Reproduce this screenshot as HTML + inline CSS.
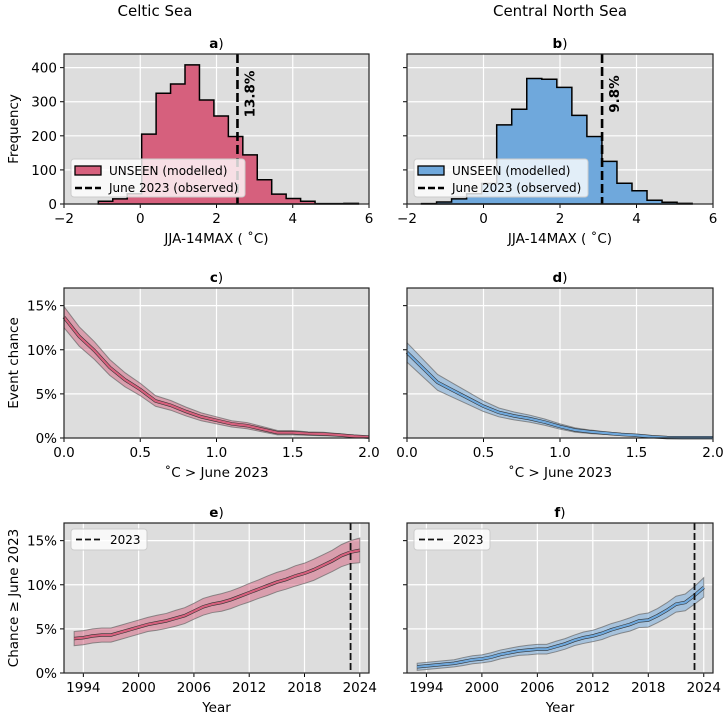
<!DOCTYPE html>
<html><head><meta charset="utf-8"><style>
body{margin:0;background:#fff;}
svg{font-family:"DejaVu Sans","Liberation Sans",sans-serif;}
</style></head><body>
<svg id="fig" width="725" height="717" viewBox="0 0 725 717" xmlns="http://www.w3.org/2000/svg">
<text x="155" y="16" font-size="15" text-anchor="middle">Celtic Sea</text>
<text x="560" y="16" font-size="15" text-anchor="middle">Central North Sea</text>
</svg>
<script>
const histAStart = -1.1, histAWidth = 0.379;
const histACounts = [8,15,30,205,325,352,408,305,258,198,144,71,29,16,8,1,1,2];
const histBStart = -1.62, histBWidth = 0.393;
const histBCounts = [1,6,15,30,60,232,278,368,366,342,260,198,125,61,39,11,5,2];
const obsA = 2.55, obsB = 3.1;
const pctA = "13.8%", pctB = "9.8%";
const histYTicks = [0,100,200,300,400];
const histXTicks = [-2,0,2,4,6];
const exceedX = [0,0.1,0.2,0.3,0.4,0.5,0.6,0.7,0.8,0.9,1.0,1.1,1.2,1.3,1.4,1.5,1.6,1.7,1.8,1.9,2.0];
const exceedC = [13.7,11.5,9.9,8.0,6.6,5.5,4.2,3.7,3.0,2.4,2.0,1.6,1.4,1.0,0.6,0.6,0.5,0.45,0.35,0.2,0.1];
const exceedCErr = [1.2,1.1,1.0,0.9,0.8,0.7,0.6,0.55,0.5,0.45,0.4,0.35,0.35,0.3,0.25,0.25,0.2,0.2,0.15,0.1,0.1];
const exceedD = [9.7,8.0,6.3,5.4,4.5,3.6,2.9,2.5,2.2,1.8,1.3,0.9,0.7,0.55,0.4,0.3,0.15,0.05,0.03,0.03,0.03];
const exceedDErr = [1.1,1.0,0.9,0.8,0.7,0.6,0.5,0.45,0.4,0.35,0.3,0.25,0.2,0.15,0.12,0.1,0.08,0.05,0.03,0.03,0.03];
const exceedXTicks = [0,0.5,1.0,1.5,2.0];
const pctYTicks = [0,5,10,15];
const years = [];
for (let y = 1993; y <= 2024; y++) years.push(y);
const trendE = [3.9,4.0,4.2,4.3,4.3,4.6,4.9,5.2,5.5,5.7,5.9,6.2,6.5,7.0,7.5,7.8,8.0,8.3,8.7,9.1,9.5,9.9,10.3,10.6,11.0,11.3,11.7,12.2,12.7,13.3,13.7,13.9];
const trendEErr = [0.8,0.8,0.8,0.8,0.8,0.8,0.8,0.8,0.8,0.85,0.85,0.9,0.9,0.9,0.95,0.95,1.0,1.0,1.0,1.05,1.05,1.1,1.1,1.1,1.15,1.15,1.2,1.2,1.2,1.25,1.3,1.4];
const trendF = [0.7,0.8,0.9,1.0,1.1,1.3,1.5,1.6,1.8,2.1,2.3,2.5,2.6,2.7,2.7,3.0,3.3,3.7,4.0,4.2,4.5,4.9,5.2,5.5,5.9,6.0,6.5,7.1,7.8,8.0,8.8,9.7];
const trendFErr = [0.4,0.4,0.4,0.4,0.4,0.45,0.45,0.45,0.5,0.5,0.5,0.5,0.55,0.55,0.55,0.6,0.6,0.6,0.65,0.65,0.7,0.7,0.7,0.75,0.75,0.8,0.8,0.85,0.9,0.95,1.0,1.1];
const yearTicks = [1994,2000,2006,2012,2018,2024];
const obsYear = 2023;

const NS = "http://www.w3.org/2000/svg";
const svg = document.getElementById('fig');
function mk(tag, attrs, parent, text) {
  const e = document.createElementNS(NS, tag);
  for (const k in attrs) e.setAttribute(k, attrs[k]);
  if (text !== undefined) e.textContent = text;
  (parent || svg).appendChild(e);
  return e;
}
function axes(p) {
  const g = mk('g', {});
  
  
  const sx = v => p.x0 + (v - p.xmin) / (p.xmax - p.xmin) * (p.x1 - p.x0);
  const sy = v => p.y1 - (v - p.ymin) / (p.ymax - p.ymin) * (p.y1 - p.y0);
  const bg = mk('rect', {x:p.x0, y:p.y0, width:p.x1-p.x0, height:p.y1-p.y0, fill:'#dddddd'}, g);
  
  
  p.xticks.forEach(t => {
    mk('line', {x1:sx(t), x2:sx(t), y1:p.y0, y2:p.y1, stroke:'#fff', 'stroke-width':1.2}, g);
    mk('line', {x1:sx(t), x2:sx(t), y1:p.y1, y2:p.y1+4, stroke:'#000', 'stroke-width':1}, g);
    const lab = mk('text', {x:sx(t), y:p.y1+19, 'font-size':13.5, 'text-anchor':'middle'}, g, p.xfmt ? p.xfmt(t) : String(t).replace('-', '\u2212'));
    
    
  });
  p.yticks.forEach(t => {
    mk('line', {x1:p.x0, x2:p.x1, y1:sy(t), y2:sy(t), stroke:'#fff', 'stroke-width':1.2}, g);
    mk('line', {x1:p.x0-4, x2:p.x0, y1:sy(t), y2:sy(t), stroke:'#000', 'stroke-width':1}, g);
    if (p.ylabels) {
      const lab = mk('text', {x:p.x0-7, y:sy(t)+5, 'font-size':13.5, 'text-anchor':'end'}, g, p.yfmt ? p.yfmt(t) : String(t));
      
      
    }
  });
  const tt = mk('text', {x:(p.x0+p.x1)/2, y:p.y0-6, 'font-size':13.5, 'text-anchor':'middle'}, g);
  
  
  mk('tspan', {'font-weight':'bold'}, tt, p.letter);
  mk('tspan', {}, tt, ')');
  const xl = mk('text', {x:(p.x0+p.x1)/2, y:p.y1+39, 'font-size':13.5, 'text-anchor':'middle'}, g, p.xlabel);
  
  
  if (p.ylabel) {
    const cy = (p.y0+p.y1)/2;
    const yl = mk('text', {x:18, y:cy, 'font-size':13.5, 'text-anchor':'middle', transform:`rotate(-90 18 ${cy})`}, g, p.ylabel);
    
    
  }
  return {g, sx, sy, frame: () => {
    const fr = mk('rect', {x:p.x0, y:p.y0, width:p.x1-p.x0, height:p.y1-p.y0, fill:'none', stroke:'#222', 'stroke-width':1.2}, g);
    
    
  }};
}
function hist(p, start, width, counts, color, obs, pct) {
  const a = axes(p);
  let d = `M${a.sx(start)},${a.sy(0)}`;
  counts.forEach((c, i) => {
    d += ` L${a.sx(start+i*width)},${a.sy(c)} L${a.sx(start+(i+1)*width)},${a.sy(c)}`;
  });
  d += ` L${a.sx(start+counts.length*width)},${a.sy(0)} Z`;
  const h = mk('path', {d, fill:color, stroke:'#000', 'stroke-width':1.5}, a.g);
  
  
  const ol = mk('line', {x1:a.sx(obs), x2:a.sx(obs), y1:p.y0, y2:p.y1, stroke:'#000', 'stroke-width':2.6, 'stroke-dasharray':'9,4'}, a.g);
  
  
  const tx = a.sx(obs)+17, ty = p.y0+40;
  const pt = mk('text', {x:tx, y:ty, 'font-size':13.5, 'font-weight':'bold', 'text-anchor':'middle', transform:`rotate(-90 ${tx} ${ty})`}, a.g, pct);
  
  
  const lx = p.x0+7, ly = 159;
  const lg = mk('g', {}, a.g);
  
  
  mk('rect', {x:lx, y:ly, width:174, height:38, rx:3, fill:'#fff', 'fill-opacity':0.8, stroke:'#ccc'}, lg);
  mk('rect', {x:lx+4, y:ly+7, width:26, height:9, fill:color, stroke:'#000', 'stroke-width':1.3}, lg);
  mk('text', {x:lx+38, y:ly+16, 'font-size':12}, lg, 'UNSEEN (modelled)');
  mk('line', {x1:lx+4, x2:lx+30, y1:ly+29, y2:ly+29, stroke:'#000', 'stroke-width':2.6, 'stroke-dasharray':'7,3'}, lg);
  mk('text', {x:lx+38, y:ly+33, 'font-size':12}, lg, 'June 2023 (observed)');
  a.frame();
}
function band(p, xs, ys, errs, color, fill, legendYear) {
  const a = axes(p);
  let up = '', lo = '';
  xs.forEach((x, i) => { up += (i ? ' L' : 'M') + a.sx(x) + ',' + a.sy(ys[i] + errs[i]); });
  for (let i = xs.length - 1; i >= 0; i--) lo += ' L' + a.sx(xs[i]) + ',' + a.sy(Math.max(0, ys[i] - errs[i]));
  const b = mk('path', {d: up + lo + ' Z', fill, 'fill-opacity':0.5, stroke:'#666', 'stroke-width':1, 'stroke-opacity':0.7}, a.g);
  
  
  const pts = xs.map((x, i) => a.sx(x) + ',' + a.sy(ys[i])).join(' ');
  mk('polyline', {points:pts, fill:'none', stroke:'#333', 'stroke-width':3.4}, a.g);
  const l = mk('polyline', {points:pts, fill:'none', stroke:color, 'stroke-width':2.2}, a.g);
  
  
  if (legendYear) {
    const ol = mk('line', {x1:a.sx(legendYear), x2:a.sx(legendYear), y1:p.y0, y2:p.y1, stroke:'#111', 'stroke-width':1.8, 'stroke-dasharray':'7,3'}, a.g);
    
    
    const lg = mk('g', {}, a.g);
    
    
    const lx = p.x0+7, ly = p.y0+6;
    mk('rect', {x:lx, y:ly, width:76, height:21, rx:3, fill:'#fff', 'fill-opacity':0.8, stroke:'#ccc'}, lg);
    mk('line', {x1:lx+5, x2:lx+30, y1:ly+10.5, y2:ly+10.5, stroke:'#111', 'stroke-width':1.8, 'stroke-dasharray':'6,3'}, lg);
    mk('text', {x:lx+39, y:ly+15, 'font-size':12}, lg, String(legendYear));
  }
  a.frame();
}
const pink = '#d6607d', blue = '#6fa8dc';
const pctFmt = t => t + '%';
const histBase = {xmin:-2, xmax:6, ymin:0, ymax:440, y0:54, y1:204, xticks:histXTicks, yticks:histYTicks, xlabel:'JJA-14MAX ( \u02daC)'};
hist(Object.assign({}, histBase, {name:'panel-a-histogram', letter:'a', x0:64, x1:369, ylabels:true, ylabel:'Frequency'}), histAStart, histAWidth, histACounts, pink, obsA, pctA);
hist(Object.assign({}, histBase, {name:'panel-b-histogram', letter:'b', x0:407, x1:713, ylabels:false}), histBStart, histBWidth, histBCounts, blue, obsB, pctB);
const exBase = {xmin:0, xmax:2, ymin:0, ymax:17, y0:288, y1:438, xticks:exceedXTicks, yticks:pctYTicks, xlabel:'\u02daC > June 2023', xfmt:t => t.toFixed(1), yfmt:pctFmt};
band(Object.assign({}, exBase, {name:'panel-c-event-chance', letter:'c', x0:64, x1:369, ylabels:true, ylabel:'Event chance'}), exceedX, exceedC, exceedCErr, pink, pink);
band(Object.assign({}, exBase, {name:'panel-d-event-chance', letter:'d', x0:407, x1:713, ylabels:false}), exceedX, exceedD, exceedDErr, blue, blue);
const trBase = {xmin:1991.9, xmax:2025.0, ymin:0, ymax:17, y0:523, y1:673, xticks:yearTicks, yticks:pctYTicks, xlabel:'Year', yfmt:pctFmt};
band(Object.assign({}, trBase, {name:'panel-e-trend', letter:'e', x0:64, x1:369, ylabels:true, ylabel:'Chance \u2265 June 2023'}), years, trendE, trendEErr, pink, pink, obsYear);
band(Object.assign({}, trBase, {name:'panel-f-trend', letter:'f', x0:407, x1:713, ylabels:false}), years, trendF, trendFErr, blue, blue, obsYear);
</script>
</body></html>
